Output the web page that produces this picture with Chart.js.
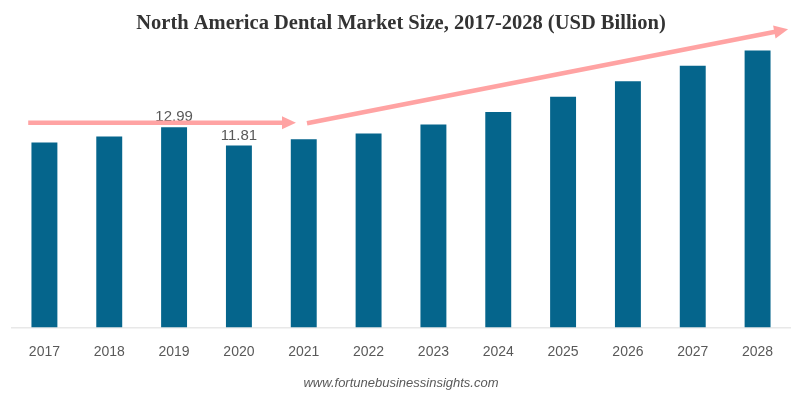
<!DOCTYPE html>
<html>
<head>
<meta charset="utf-8">
<script src="https://cdn.jsdelivr.net/npm/chart.js@4.4.0/dist/chart.umd.min.js"></script>
<style>
  html, body { margin: 0; padding: 0; background: #ffffff; }
  #wrap { width: 800px; height: 396px; position: relative; }
</style>
</head>
<body>
<div id="wrap"><canvas id="c" width="800" height="396"></canvas></div>
<script>
const categories = ["2017","2018","2019","2020","2021","2022","2023","2024","2025","2026","2027","2028"];
const marketSize = [12.01, 12.40, 12.99, 11.81, 12.21, 12.59, 13.17, 13.98, 14.97, 15.98, 16.99, 17.97];
const labelledIndices = [2, 3];
const titleText = "North America Dental Market Size, 2017-2028 (USD Billion)";
const sourceText = "www.fortunebusinessinsights.com";

const ARROW = "rgb(255,163,163)";

function drawArrow(ctx, x1, y1, x2, y2) {
  const ang = Math.atan2(y2 - y1, x2 - x1);
  const headLen = 14, headHalf = 6.5;
  const bx = x2 - headLen * Math.cos(ang), by = y2 - headLen * Math.sin(ang);
  ctx.save();
  ctx.strokeStyle = ARROW; ctx.fillStyle = ARROW;
  ctx.lineWidth = 4.5; ctx.lineCap = "butt";
  ctx.beginPath(); ctx.moveTo(x1, y1); ctx.lineTo(bx + 1 * Math.cos(ang), by + 1 * Math.sin(ang)); ctx.stroke();
  ctx.beginPath();
  ctx.moveTo(x2, y2);
  ctx.lineTo(bx + headHalf * Math.sin(ang), by - headHalf * Math.cos(ang));
  ctx.lineTo(bx - headHalf * Math.sin(ang), by + headHalf * Math.cos(ang));
  ctx.closePath(); ctx.fill();
  ctx.restore();
}

const decor = {
  id: "decor",
  afterDatasetsDraw(chart) {
    const ctx = chart.ctx, x = chart.scales.x, y = chart.scales.y;
    const meta = chart.getDatasetMeta(0);
    // value labels
    ctx.save();
    ctx.font = "15px 'Liberation Sans', Arial, sans-serif";
    ctx.fillStyle = "#595959";
    ctx.textAlign = "center"; ctx.textBaseline = "alphabetic";
    labelledIndices.forEach(i => {
      const el = meta.data[i];
      ctx.fillText(marketSize[i].toFixed(2), el.x, el.y - 6);
    });
    ctx.restore();
    // arrows (positioned via the scales)
    const px = v => x.getPixelForValue(0) + v * (x.getPixelForValue(1) - x.getPixelForValue(0));
    drawArrow(ctx, px(-0.25), y.getPixelForValue(13.28), px(3.88), y.getPixelForValue(13.28));
    drawArrow(ctx, px(4.05), y.getPixelForValue(13.25), px(11.47), y.getPixelForValue(19.35));
    // title
    ctx.save();
    ctx.font = "bold 20.5px 'Liberation Serif', 'Times New Roman', serif";
    ctx.fillStyle = "#333333";
    ctx.textAlign = "center"; ctx.textBaseline = "middle";
    ctx.fillText(titleText, 401, 23.5);
    ctx.restore();
  }
};

new Chart(document.getElementById("c"), {
  type: "bar",
  data: {
    labels: categories,
    datasets: [{
      data: marketSize,
      backgroundColor: "#05658c",
      borderWidth: 0,
      barPercentage: 0.4,
      categoryPercentage: 1.0
    }]
  },
  options: {
    responsive: false,
    animation: false,
    devicePixelRatio: 1,
    layout: { padding: { left: 12, right: 10, top: 27, bottom: 6 } },
    plugins: { legend: { display: false }, tooltip: { enabled: false }, title: { display: false } },
    scales: {
      x: {
        grid: { display: true, drawOnChartArea: false, drawTicks: false, color: "rgba(0,0,0,0)" },
        border: { display: true, color: "#e8e8e8", width: 1.5 },
        ticks: { color: "#595959", font: { family: "'Liberation Sans', Arial, sans-serif", size: 14 }, padding: 16 },
        title: {
          display: true, text: sourceText, color: "#595959",
          font: { family: "'Liberation Sans', Arial, sans-serif", size: 13, style: "italic", lineHeight: 1.05 },
          padding: { top: 0, bottom: 0 }
        }
      },
      y: { display: false, min: 0, max: 19.5 }
    }
  },
  plugins: [decor]
});
</script>
</body>
</html>
